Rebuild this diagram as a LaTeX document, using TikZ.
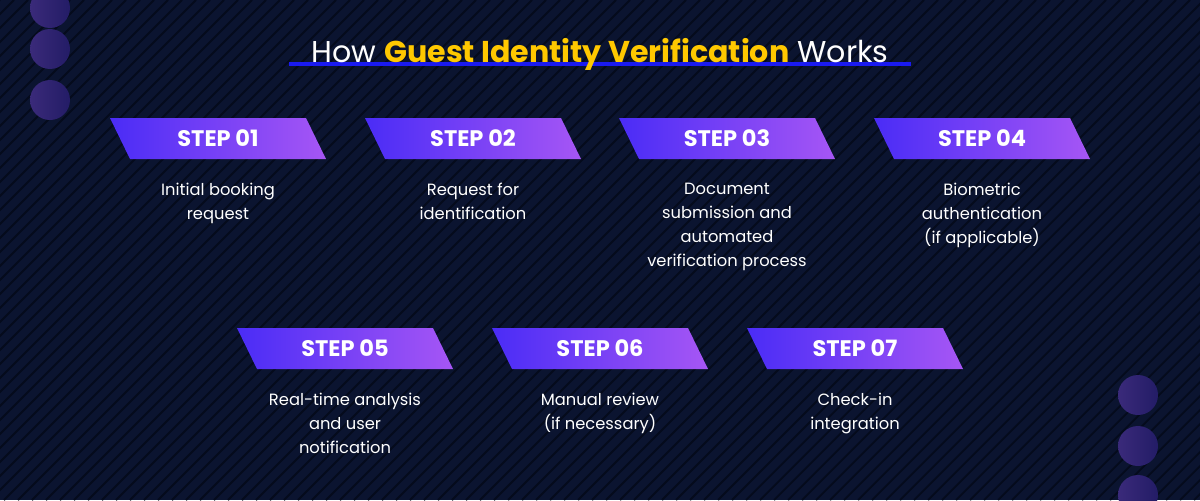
\documentclass[tikz,border=0pt]{standalone}
\usepackage{fontspec}
\setmainfont{Poppins}
\usetikzlibrary{positioning}
\definecolor{bgnavy}{HTML}{0B1430}
\definecolor{stripe}{HTML}{050B1C}
\definecolor{violetL}{HTML}{4A2CF6}
\definecolor{violetR}{HTML}{A656F5}
\definecolor{dotL}{HTML}{3A2A7A}
\definecolor{dotR}{HTML}{231C66}
\definecolor{titleyellow}{HTML}{FFC800}
\definecolor{lineblue}{HTML}{1A1AF0}
\tikzset{
  banner/.style={left color=violetL, right color=violetR},
  steplabel/.style={text=white, font=\bfseries\fontsize{16}{18}\selectfont},
  desc/.style={text=white, align=center, font=\fontsize{11.6}{17}\selectfont},
  dot/.style={left color=dotL, right color=dotR},
}
\begin{document}
\begin{tikzpicture}[x=0.025cm, y=-0.025cm]
	\useasboundingbox (0,0) rectangle (1200,500);
	\fill[bgnavy] (0,0) rectangle (1200,500);
	\begin{scope}
	\clip (0,0) rectangle (1200,500);
	\foreach \s in {-500,-486,...,1200}
		\draw[stripe, line width=1.8mm*0.25] (\s,500) -- (\s+500,0);
	\end{scope}
	% side dots
	\foreach \y in {8,49,100}
		\shade[dot] (50,\y) circle (20);
	\foreach \y in {395,446,495}
		\shade[dot] (1138,\y) circle (20);
	% title
	\draw[lineblue, line width=1mm] (289,64) -- (911,64);
	\node[text=white, font=\fontsize{21.4}{25}\selectfont] (title) at (600,54)
		{How {\bfseries\color{titleyellow}Guest Identity Verification} Works};
	% steps
	\foreach \n/\cx/\cy/\txt in {
		01/218/138/{Initial booking\\request},
		02/473/138/{Request for\\identification},
		03/727/138/{Document\\submission and\\automated\\verification process},
		04/982/138/{Biometric\\authentication\\(if applicable)},
		05/345/348/{Real-time analysis\\and user\\notification},
		06/600/348/{Manual review\\(if necessary)},
		07/855/348/{Check-in\\integration}}
	{
		\shade[banner] (\cx-108,\cy-20) -- (\cx+88,\cy-20) -- (\cx+108,\cy+21) -- (\cx-88,\cy+21) -- cycle;
		\node[steplabel] (step\n) at (\cx,\cy) {STEP \n};
		\node[desc, anchor=north] (desc\n) at (\cx,\cy+40) {\txt};
	}
\end{tikzpicture}
\end{document}
